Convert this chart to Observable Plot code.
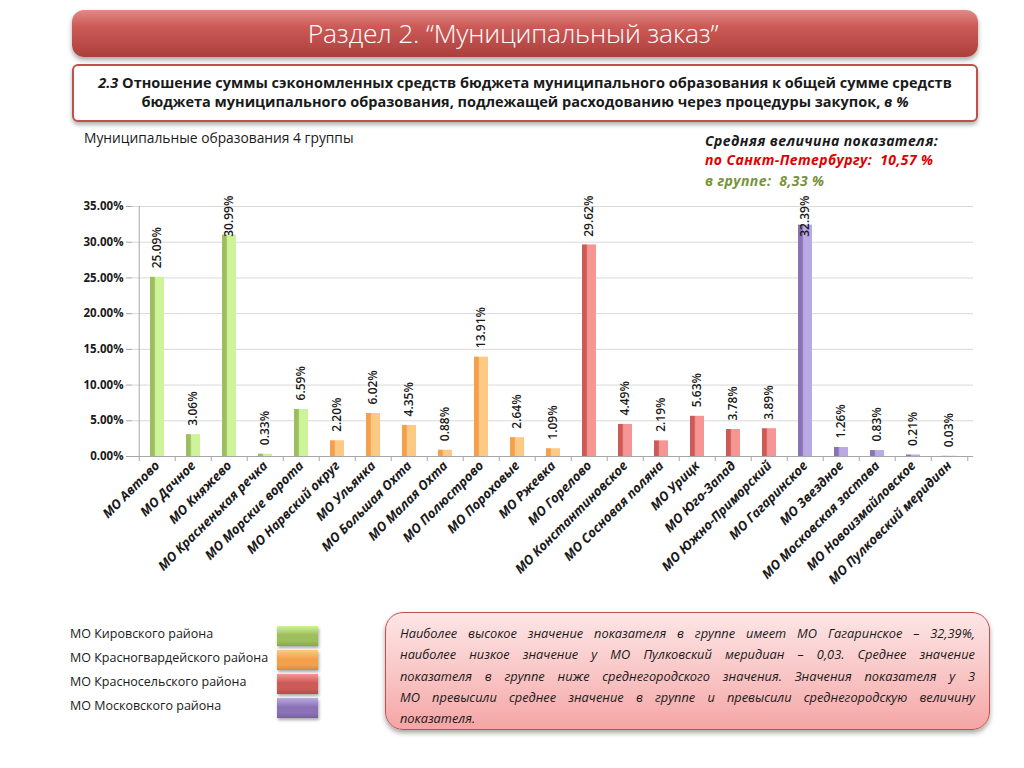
<!DOCTYPE html>
<html>
<head>
<meta charset="utf-8">
<script src="https://cdn.jsdelivr.net/npm/d3@7"></script>
<script src="https://cdn.jsdelivr.net/npm/@observablehq/plot@0.6"></script>
<style>
  html, body { margin: 0; padding: 0; background: #fff; }
  #page { position: relative; width: 1024px; height: 768px; overflow: hidden; font-family: "Open Sans", "DejaVu Sans", sans-serif; color: #1a1a1a; }
  #banner { position: absolute; left: 72px; top: 10px; width: 906px; height: 47px; border-radius: 12px;
    background: linear-gradient(#e08a87 0%, #cc5a56 35%, #c0504d 60%, #ab3f3c 100%);
    box-shadow: 0 3px 5px rgba(0,0,0,0.35); color: #fff; font-size: 26.5px; font-weight: 300;
    text-align: center; line-height: 47px; letter-spacing: -0.2px; box-sizing: border-box; padding-right: 24px; }
  #subbox { position: absolute; left: 72px; top: 64px; width: 902px; height: 47px; border: 2px solid #c0504d; border-radius: 6px;
    background: #fff; box-shadow: 0 3px 4px rgba(0,0,0,0.3); text-align: center; font-weight: 700; font-size: 14.5px; line-height: 19px;
    padding-top: 7px; box-sizing: content-box; }
  #subbox .l { display: block; white-space: nowrap; }
  #group { position: absolute; left: 84px; top: 128px; font-size: 13.8px; font-weight: 500; }
  .avg { position: absolute; left: 705px; font-style: italic; font-weight: 700; font-size: 14px; letter-spacing: 0.4px; line-height: 19px; white-space: nowrap; }
  #avg1 { top: 131px; }
  #avg2 { top: 150px; color: #e00000; }
  #avg3 { top: 171px; color: #77933c; }
  #chart { position: absolute; left: 50px; top: 185px; }
  #legend { position: absolute; left: 70px; top: 624px; }
  .li { position: relative; height: 24px; font-size: 12.5px; line-height: 20px; }
  .sw { position: absolute; left: 207px; top: 2px; width: 41px; height: 20px; box-shadow: 1px 2px 3px rgba(0,0,0,0.35); }
  #note { position: absolute; left: 385px; top: 612px; width: 575px; height: 102px; padding: 10px 14px 4px 14px;
    border: 1.5px solid #c0504d; border-radius: 18px; background: linear-gradient(#fde6e6 0%, #f9c4c4 55%, #f5a5a5 100%);
    box-shadow: 0 3px 5px rgba(0,0,0,0.35); font-style: italic; font-size: 12.8px; line-height: 21.3px; }
  #note .nl { display: block; text-align: justify; text-align-last: justify; white-space: nowrap; }
  #note .nl.last { text-align-last: left; }
</style>
</head>
<body>
<div id="page">
  <div id="banner">Раздел 2. “Муниципальный заказ”</div>
  <div id="subbox">
    <span class="l"><i>2.3</i> Отношение суммы сэкономленных средств бюджета муниципального образования к общей сумме средств</span>
    <span class="l">бюджета муниципального образования, подлежащей расходованию через процедуры закупок, <i>в %</i></span>
  </div>
  <div id="group">Муниципальные образования 4 группы</div>
  <div class="avg" id="avg1">Средняя величина показателя:</div>
  <div class="avg" id="avg2">по Санкт-Петербургу:&nbsp; 10,57 %</div>
  <div class="avg" id="avg3">в группе:&nbsp; 8,33 %</div>
  <div id="chart"></div>
  <div id="legend"></div>
  <div id="note">
    <span class="nl">Наиболее высокое значение показателя в группе имеет МО Гагаринское – 32,39%,</span>
    <span class="nl">наиболее низкое значение у МО Пулковский меридиан – 0,03. Среднее значение</span>
    <span class="nl">показателя в группе ниже среднегородского значения. Значения показателя у 3</span>
    <span class="nl">МО превысили среднее значение в группе и превысили среднегородскую величину</span>
    <span class="nl last">показателя.</span>
  </div>
</div>
<script>
// ---- data ----
const names = ["МО Автово","МО Дачное","МО Княжево","МО Красненькая речка","МО Морские ворота",
  "МО Нарвский округ","МО Ульянка","МО Большая Охта","МО Малая Охта","МО Полюстрово","МО Пороховые","МО Ржевка",
  "МО Горелово","МО Константиновское","МО Сосновая поляна","МО Урицк","МО Юго-Запад","МО Южно-Приморский",
  "МО Гагаринское","МО Звездное","МО Московская застава","МО Новоизмайловское","МО Пулковский меридиан"];
const values = [25.09,3.06,30.99,0.33,6.59,2.20,6.02,4.35,0.88,13.91,2.64,1.09,29.62,4.49,2.19,5.63,3.78,3.89,32.39,1.26,0.83,0.21,0.03];
const districtIndex = [0,0,0,0,0,1,1,1,1,1,1,1,2,2,2,2,2,2,3,3,3,3,3];
const districtNames = ["МО Кировского района","МО Красногвардейского района","МО Красносельского района","МО Московского района"];
const darkColors = ["#9dbe5c","#f3a04c","#cc5a57","#8b72b4"];
const lightColors = ["#cdf49a","#fdca85","#f59694","#b9a9e4"];
const yTicks = [0,5,10,15,20,25,30,35];

const data = names.map((n, i) => ({name: n, v: values[i], k: districtIndex[i]}));

const W = 933, H = 411, mL = 82, mR = 10, mT = 21, mB = 140;
const step = (W - mL - mR) / names.length;
const labelCap = 29.5;

const barMarks = districtNames.map((_, k) =>
  Plot.barY(data.filter(d => d.k === k), {x: "name", y: "v", fill: `url(#bar-g${k})`, insetLeft: 11, insetRight: 11})
);

const chart = Plot.plot({
  width: W, height: H,
  marginLeft: mL, marginRight: mR, marginTop: mT, marginBottom: mB,
  style: {fontFamily: "'Open Sans', 'DejaVu Sans', sans-serif", color: "#1a1a1a", background: "transparent"},
  x: {domain: names, padding: 0, label: null},
  y: {domain: [0, 35], label: null},
  marks: [
    Plot.gridY(yTicks, {stroke: "#d9d9d9", strokeOpacity: 1}),
    Plot.ruleX([names[0]], {dx: -step / 2, y1: 0, y2: 35, stroke: "#a6a6a6"}),
    Plot.axisY(yTicks, {tickFormat: d => d.toFixed(2) + "%", tickSize: 6, tickPadding: 3, stroke: "#a6a6a6",
      fontSize: 11.5, fontWeight: 700, fill: "#1a1a1a"}),
    ...barMarks,
    Plot.ruleY([0], {stroke: "#a6a6a6"}),
    Plot.ruleX(names, {x: d => d, dx: -step / 2, y1: 0, y2: -0.7, stroke: "#a6a6a6"}),
    Plot.ruleX([names[names.length - 1]], {dx: step / 2, y1: 0, y2: -0.7, stroke: "#a6a6a6"}),
    Plot.axisX({tickRotate: -45, tickSize: 0, tickPadding: 7, fontSize: 13, fontStyle: "italic", fontWeight: 700, fill: "#1a1a1a"}),
    Plot.text(data, {x: "name", y: d => Math.min(d.v, labelCap), text: d => d.v.toFixed(2) + "%", rotate: -90,
      textAnchor: "start", dy: -9, fontSize: 12, fontWeight: 600, fill: "#1a1a1a"})
  ]
});

// gradients for the bars
const defs = districtNames.map((_, k) => `
  <linearGradient id="bar-g${k}" x1="0" x2="1" y1="0" y2="0">
    <stop offset="0" stop-color="${darkColors[k]}"/>
    <stop offset="0.3" stop-color="${darkColors[k]}"/>
    <stop offset="0.4" stop-color="${lightColors[k]}"/>
    <stop offset="1" stop-color="${lightColors[k]}"/>
  </linearGradient>`).join("");
chart.insertAdjacentHTML("afterbegin", `<defs>${defs}</defs>`);
document.getElementById("chart").appendChild(chart);

// legend
const legend = document.getElementById("legend");
districtNames.forEach((n, k) => {
  const row = document.createElement("div");
  row.className = "li";
  row.textContent = n;
  const sw = document.createElement("div");
  sw.className = "sw";
  sw.style.background = `linear-gradient(${lightColors[k]} 0%, ${darkColors[k]} 45%, ${darkColors[k]} 75%, ${d3.color(darkColors[k]).darker(0.4)} 100%)`;
  row.appendChild(sw);
  legend.appendChild(row);
});
</script>
</body>
</html>
